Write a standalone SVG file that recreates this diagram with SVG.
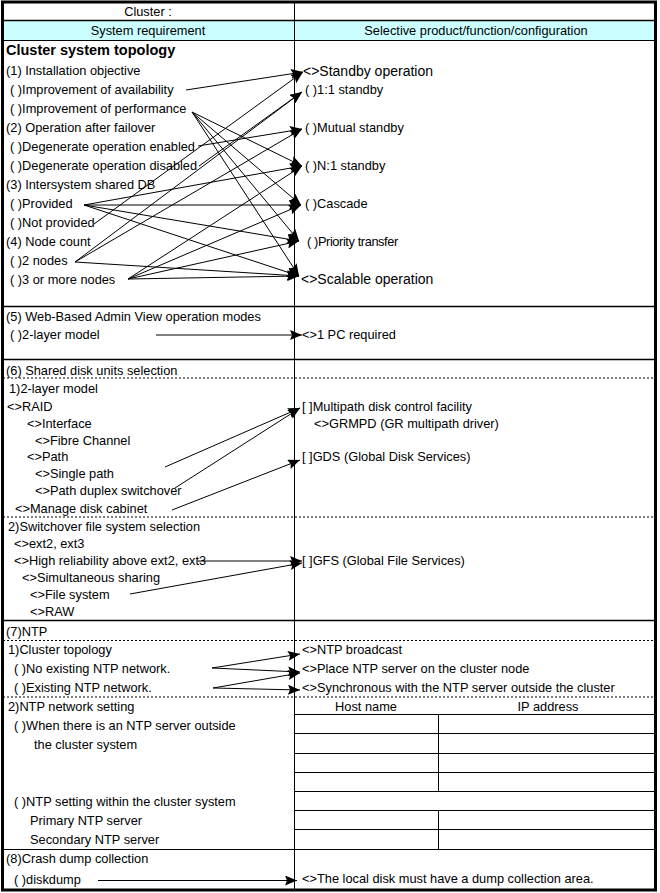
<svg xmlns="http://www.w3.org/2000/svg" width="660" height="893" viewBox="0 0 660 893">
<style>
.t{font-family:"Liberation Sans",Arial,sans-serif;font-size:12.8px;fill:#000}
.b{font-weight:bold;font-size:14.5px}
.l{font-size:14px}
.c{text-anchor:middle}
.ln{stroke:#000;stroke-width:1;fill:none}
.dot{stroke:#000;stroke-width:1;stroke-dasharray:2 2;fill:none}
.ar{stroke:#000;stroke-width:1;fill:none;marker-end:url(#ah)}
</style>
<defs>
<marker id="ah" markerUnits="userSpaceOnUse" markerWidth="13" markerHeight="10" refX="12" refY="5" orient="auto">
<path d="M0,0 L12,5 L0,10 L2,5 z" fill="#000"/>
</marker>
</defs>
<rect x="0" y="0" width="660" height="893" fill="#fff"/>
<g id="frame">
<rect x="3" y="20.5" width="652" height="20" fill="#CCFFFF"/>
<line class="ln" x1="3" y1="20.5" x2="655" y2="20.5" style="stroke-width:1.5"/>
<line class="ln" x1="3" y1="40.5" x2="655" y2="40.5"/>
<line class="ln" x1="294.5" y1="2" x2="294.5" y2="890"/>
<line class="ln" x1="3" y1="306.5" x2="655" y2="306.5" style="stroke-width:1.5"/>
<line class="ln" x1="3" y1="359.5" x2="655" y2="359.5" style="stroke-width:1.5"/>
<line class="dot" x1="3" y1="378" x2="655" y2="378"/>
<line class="dot" x1="3" y1="517" x2="655" y2="517"/>
<line class="ln" x1="3" y1="620.5" x2="655" y2="620.5" style="stroke-width:1.5"/>
<line class="dot" x1="3" y1="640.5" x2="655" y2="640.5"/>
<line class="dot" x1="3" y1="697" x2="655" y2="697"/>
<line class="ln" x1="295" y1="714.5" x2="655" y2="714.5"/>
<line class="ln" x1="295" y1="733.5" x2="655" y2="733.5"/>
<line class="ln" x1="295" y1="753.5" x2="655" y2="753.5"/>
<line class="ln" x1="295" y1="772.5" x2="655" y2="772.5"/>
<line class="ln" x1="295" y1="791.5" x2="655" y2="791.5"/>
<line class="ln" x1="295" y1="810.5" x2="655" y2="810.5"/>
<line class="ln" x1="295" y1="829.5" x2="655" y2="829.5"/>
<line class="ln" x1="3" y1="849.5" x2="655" y2="849.5"/>
<line class="ln" x1="438.5" y1="714.5" x2="438.5" y2="791.5"/>
<line class="ln" x1="438.5" y1="810.5" x2="438.5" y2="849.5"/>
<rect x="2.5" y="2" width="653" height="888" fill="none" stroke="#000" stroke-width="3"/>
</g>
<g id="connectors">
<line class="ar" x1="186" y1="90" x2="303" y2="72"/>
<line class="ar" x1="192" y1="112" x2="302" y2="166"/>
<line class="ar" x1="192" y1="112" x2="301" y2="205"/>
<line class="ar" x1="192" y1="112" x2="299" y2="241"/>
<line class="ar" x1="192" y1="112" x2="299" y2="276"/>
<line class="ar" x1="198" y1="146" x2="302" y2="129"/>
<line class="ar" x1="199" y1="166" x2="302" y2="92"/>
<line class="ar" x1="84" y1="205" x2="302" y2="166"/>
<line class="ar" x1="84" y1="205" x2="301" y2="205"/>
<line class="ar" x1="84" y1="205" x2="299" y2="241"/>
<line class="ar" x1="84" y1="205" x2="299" y2="276"/>
<line class="ar" x1="94" y1="224" x2="303" y2="72"/>
<line class="ar" x1="75" y1="262" x2="302" y2="92"/>
<line class="ar" x1="75" y1="262" x2="302" y2="129"/>
<line class="ar" x1="75" y1="262" x2="299" y2="276"/>
<line class="ar" x1="128" y1="279" x2="302" y2="166"/>
<line class="ar" x1="128" y1="279" x2="301" y2="205"/>
<line class="ar" x1="128" y1="279" x2="299" y2="241"/>
<line class="ar" x1="128" y1="279" x2="299" y2="276"/>
<line class="ar" x1="156" y1="335" x2="302" y2="335"/>
<line class="ar" x1="165" y1="467" x2="300" y2="408"/>
<line class="ar" x1="175" y1="488" x2="300" y2="408"/>
<line class="ar" x1="172" y1="510" x2="300" y2="460"/>
<line class="ar" x1="198" y1="561" x2="302" y2="561"/>
<line class="ar" x1="130" y1="594" x2="302" y2="563"/>
<line class="ar" x1="212" y1="668" x2="300" y2="654"/>
<line class="ar" x1="212" y1="668" x2="300" y2="672"/>
<line class="ar" x1="213" y1="688" x2="300" y2="673"/>
<line class="ar" x1="213" y1="688" x2="300" y2="690"/>
<line class="ar" x1="98" y1="880.5" x2="297" y2="880.5"/>
</g>
<g id="n-cluster"><text class="t c" x="148" y="16">Cluster  :</text></g>
<g id="n-sysreq"><text class="t c" x="148" y="35">System requirement</text></g>
<g id="n-selective"><text class="t c" x="476" y="35">Selective product/function/configuration</text></g>
<g id="n-topology"><text class="t b" x="6" y="55">Cluster system topology</text></g>
<g id="n-inst"><text class="t" x="6" y="75">(1) Installation objective</text></g>
<g id="n-avail"><text class="t" x="10" y="94">( )Improvement of availability</text></g>
<g id="n-perf"><text class="t" x="10" y="113">( )Improvement of performance</text></g>
<g id="n-opfail"><text class="t" x="6" y="132">(2) Operation after failover</text></g>
<g id="n-degen-en"><text class="t" x="10" y="151">( )Degenerate operation enabled</text></g>
<g id="n-degen-dis"><text class="t" x="10" y="170">( )Degenerate operation disabled</text></g>
<g id="n-shareddb"><text class="t" x="6" y="189">(3) Intersystem shared DB</text></g>
<g id="n-provided"><text class="t" x="10" y="208">( )Provided</text></g>
<g id="n-notprov"><text class="t" x="10" y="227">( )Not provided</text></g>
<g id="n-nodecount"><text class="t" x="6" y="246">(4) Node count</text></g>
<g id="n-2nodes"><text class="t" x="10" y="265">( )2 nodes</text></g>
<g id="n-3nodes"><text class="t" x="10" y="284">( )3 or more nodes</text></g>
<g id="n-standbyop"><text class="t l" x="303" y="75.5">&lt;&gt;Standby operation</text></g>
<g id="n-11"><text class="t" x="305" y="94">( )1:1 standby</text></g>
<g id="n-mutual"><text class="t" x="305" y="132">( )Mutual standby</text></g>
<g id="n-n1"><text class="t" x="305" y="170">( )N:1 standby</text></g>
<g id="n-cascade"><text class="t" x="305" y="208">( )Cascade</text></g>
<g id="n-priority"><text class="t" x="307" y="246" style="letter-spacing:-0.4px">( )Priority transfer</text></g>
<g id="n-scalable"><text class="t l" x="301" y="283.5">&lt;&gt;Scalable operation</text></g>
<g id="n-wbav"><text class="t" x="6" y="321">(5) Web-Based Admin View operation modes</text></g>
<g id="n-2layer"><text class="t" x="10" y="339">( )2-layer model</text></g>
<g id="n-1pc"><text class="t" x="302" y="339">&lt;&gt;1 PC required</text></g>
<g id="n-shared"><text class="t" x="6" y="375">(6) Shared disk units selection</text></g>
<g id="n-2layer2"><text class="t" x="9" y="393">1)2-layer model</text></g>
<g id="n-raid"><text class="t" x="7" y="411">&lt;&gt;RAID</text></g>
<g id="n-iface"><text class="t" x="27" y="428">&lt;&gt;Interface</text></g>
<g id="n-fc"><text class="t" x="35" y="445">&lt;&gt;Fibre Channel</text></g>
<g id="n-path"><text class="t" x="27" y="461">&lt;&gt;Path</text></g>
<g id="n-single"><text class="t" x="35" y="478">&lt;&gt;Single path</text></g>
<g id="n-duplex"><text class="t" x="35" y="495">&lt;&gt;Path duplex switchover</text></g>
<g id="n-cabinet"><text class="t" x="15" y="513">&lt;&gt;Manage disk cabinet</text></g>
<g id="n-multipath"><text class="t" x="302" y="411">[ ]Multipath disk control facility</text></g>
<g id="n-grmpd"><text class="t" x="314" y="428">&lt;&gt;GRMPD (GR multipath driver)</text></g>
<g id="n-gds"><text class="t" x="302" y="461">[ ]GDS (Global Disk Services)</text></g>
<g id="n-fssel"><text class="t" x="8" y="531">2)Switchover file system selection</text></g>
<g id="n-ext"><text class="t" x="14" y="548">&lt;&gt;ext2, ext3</text></g>
<g id="n-highrel"><text class="t" x="14" y="565">&lt;&gt;High reliability above ext2, ext3</text></g>
<g id="n-simul"><text class="t" x="22" y="582">&lt;&gt;Simultaneous sharing</text></g>
<g id="n-fs"><text class="t" x="30" y="599">&lt;&gt;File system</text></g>
<g id="n-raw"><text class="t" x="30" y="616">&lt;&gt;RAW</text></g>
<g id="n-gfs"><text class="t" x="302" y="565">[ ]GFS (Global File Services)</text></g>
<g id="n-ntp"><text class="t" x="6" y="636">(7)NTP</text></g>
<g id="n-ctopo"><text class="t" x="8" y="654">1)Cluster topology</text></g>
<g id="n-noexist"><text class="t" x="14" y="673">( )No existing NTP network.</text></g>
<g id="n-exist"><text class="t" x="14" y="692">( )Existing NTP network.</text></g>
<g id="n-bcast"><text class="t" x="302" y="654">&lt;&gt;NTP broadcast</text></g>
<g id="n-place"><text class="t" x="302" y="673">&lt;&gt;Place NTP server on the cluster node</text></g>
<g id="n-sync"><text class="t" x="302" y="692">&lt;&gt;Synchronous with the NTP server outside the cluster</text></g>
<g id="n-netset"><text class="t" x="8" y="711">2)NTP network setting</text></g>
<g id="n-outside"><text class="t" x="14" y="730">( )When there is an NTP server outside</text></g>
<g id="n-outside2"><text class="t" x="34" y="749">the cluster system</text></g>
<g id="n-within"><text class="t" x="14" y="806">( )NTP setting within the cluster system</text></g>
<g id="n-primary"><text class="t" x="30" y="825">Primary NTP server</text></g>
<g id="n-secondary"><text class="t" x="30" y="844">Secondary NTP server</text></g>
<g id="n-hostname"><text class="t c" x="366" y="711">Host name</text></g>
<g id="n-ip"><text class="t c" x="548" y="711">IP address</text></g>
<g id="n-crash"><text class="t" x="6" y="863">(8)Crash dump collection</text></g>
<g id="n-diskdump"><text class="t" x="14" y="884">( )diskdump</text></g>
<g id="n-localdisk"><text class="t" x="302" y="883">&lt;&gt;The local disk must have a dump collection area.</text></g>
</svg>
